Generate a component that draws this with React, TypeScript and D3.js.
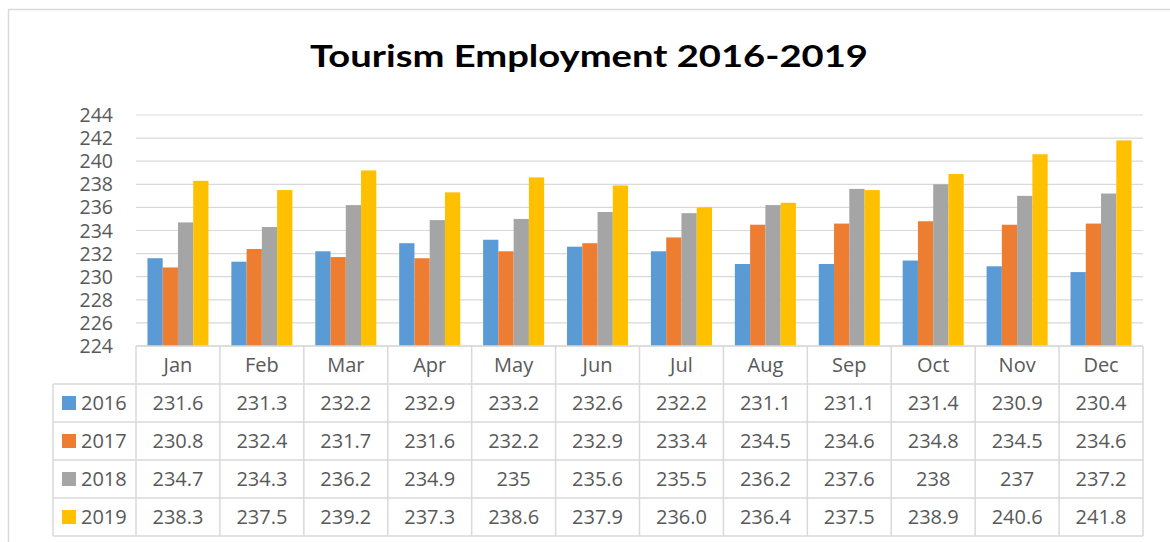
import React from "react";
import * as d3 from "d3";

const months = ["Jan", "Feb", "Mar", "Apr", "May", "Jun", "Jul", "Aug", "Sep", "Oct", "Nov", "Dec"];
const seriesNames = ["2016", "2017", "2018", "2019"];
const v2016 = [231.6, 231.3, 232.2, 232.9, 233.2, 232.6, 232.2, 231.1, 231.1, 231.4, 230.9, 230.4];
const v2017 = [230.8, 232.4, 231.7, 231.6, 232.2, 232.9, 233.4, 234.5, 234.6, 234.8, 234.5, 234.6];
const v2018 = [234.7, 234.3, 236.2, 234.9, 235, 235.6, 235.5, 236.2, 237.6, 238, 237, 237.2];
const v2019 = [238.3, 237.5, 239.2, 237.3, 238.6, 237.9, 236.0, 236.4, 237.5, 238.9, 240.6, 241.8];
const seriesFixed = [false, false, false, true];
const colors = ["#5B9BD5", "#ED7D31", "#A5A5A5", "#FFC000"];
const yTicks = [224, 226, 228, 230, 232, 234, 236, 238, 240, 242, 244];
const title = "Tourism Employment 2016-2019";

const seriesValues = [v2016, v2017, v2018, v2019];

export default function App() {
  const W = 1170, H = 542;
  const left = 136, right = 1143, top = 115, bottom = 346;
  const rowH = 38;
  const tableLeft = 53;
  const grid = "#D9D9D9";
  const txt = "#595959";
  const font = "'Open Sans', sans-serif";

  const x = d3.scaleBand<string>().domain(months).range([left, right]).padding(0);
  const cw = x.bandwidth();
  const gap = (cw * 1.5) / 5.5;
  const inner = d3.scaleBand<string>().domain(seriesNames).range([gap / 2, cw - gap / 2]).padding(0);
  const y = d3.scaleLinear().domain([224, 244]).range([bottom, top]);

  const fmt = (v: number, fixed: boolean) => (fixed ? v.toFixed(1) : String(v));

  return (
    <svg width={W} height={H} style={{ position: "absolute", left: 0, top: 0, display: "block", background: "#fff" }}>
      {/* outer frame */}
      <line x1={8} y1={9.5} x2={W} y2={9.5} stroke={grid} strokeWidth={1.5} />
      <line x1={8.5} y1={9} x2={8.5} y2={H} stroke={grid} strokeWidth={1.5} />

      <text x={589} y={67} textAnchor="middle" fontFamily="Lato, 'Open Sans', sans-serif" fontWeight="bold" fontSize={31}
        textLength={558} lengthAdjust="spacingAndGlyphs" fill="#000">{title}</text>

      {/* gridlines */}
      {yTicks.map((t) => (
        <line key={t} x1={left} x2={right} y1={y(t)} y2={y(t)} stroke={grid} strokeWidth={1.2} />
      ))}
      {yTicks.map((t) => (
        <text key={"l" + t} x={113} y={y(t)} dy="0.36em" textAnchor="end" fontFamily={font} fontSize={19.5} fill={txt}>{t}</text>
      ))}

      {/* bars */}
      {seriesValues.map((vals, si) =>
        vals.map((v, mi) => (
          <rect key={si + "-" + mi}
            x={(x(months[mi]) as number) + (inner(seriesNames[si]) as number)}
            y={y(v)} width={inner.bandwidth()} height={y(224) - y(v)} fill={colors[si]} />
        ))
      )}

      {/* table */}
      <g stroke={grid} strokeWidth={1.5} fill="none">
        <line x1={left} x2={right} y1={bottom} y2={bottom} />
        {seriesNames.map((_, i) => (
          <line key={"h" + i} x1={tableLeft} x2={right} y1={bottom + rowH * (i + 1)} y2={bottom + rowH * (i + 1)} />
        ))}
        <line x1={tableLeft} x2={right} y1={bottom + rowH * 5} y2={bottom + rowH * 5} />
        <line x1={tableLeft} x2={tableLeft} y1={bottom + rowH} y2={bottom + rowH * 5} />
        {months.map((m) => (
          <line key={"v" + m} x1={x(m)} x2={x(m)} y1={bottom} y2={bottom + rowH * 5} />
        ))}
        <line x1={right} x2={right} y1={bottom} y2={bottom + rowH * 5} />
      </g>
      {months.map((m) => (
        <text key={"m" + m} x={(x(m) as number) + cw / 2} y={bottom + rowH / 2} dy="0.36em" textAnchor="middle"
          fontFamily={font} fontSize={20} fill={txt}>{m}</text>
      ))}
      {seriesNames.map((s, si) => {
        const cy = bottom + rowH * (si + 1) + rowH / 2;
        return (
          <g key={"r" + s}>
            <rect x={62} y={cy - 7} width={14} height={14} fill={colors[si]} />
            <text x={81} y={cy} dy="0.36em" fontFamily={font} fontSize={20} fill={txt}>{s}</text>
            {seriesValues[si].map((v, mi) => (
              <text key={mi} x={(x(months[mi]) as number) + cw / 2} y={cy} dy="0.36em" textAnchor="middle"
                fontFamily={font} fontSize={20} fill={txt}>{fmt(v, seriesFixed[si])}</text>
            ))}
          </g>
        );
      })}
    </svg>
  );
}
